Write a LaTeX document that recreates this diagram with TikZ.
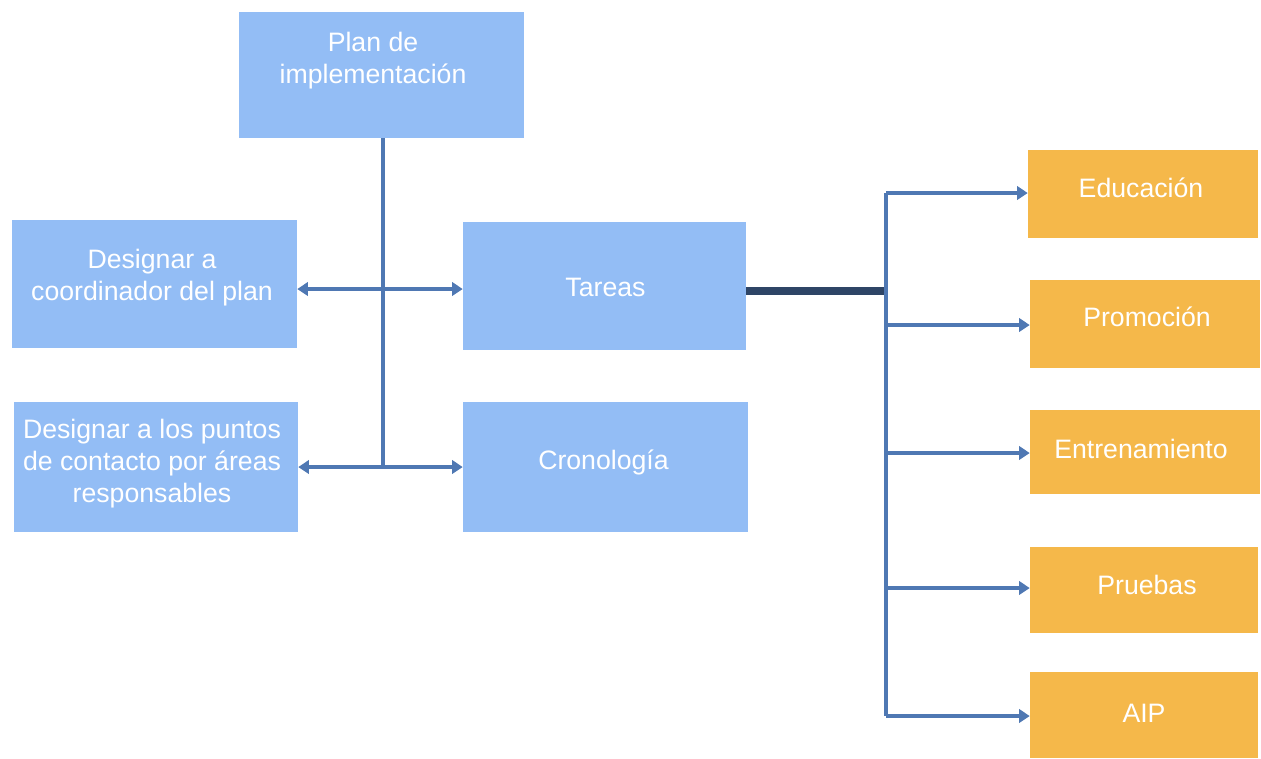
\documentclass[tikz,border=0pt]{standalone}
\usepackage{fontspec}
\setmainfont{Liberation Sans}
\usetikzlibrary{arrows.meta}
\definecolor{boxblue}{HTML}{93BDF5}
\definecolor{boxorange}{HTML}{F5B84A}
\definecolor{linkblue}{HTML}{4F78B3}
\definecolor{darkline}{HTML}{2E4566}
\begin{document}
\begin{tikzpicture}[x=0.75pt,y=-0.75pt,
  lbl/.style={text=white,font=\fontsize{20}{24}\selectfont,align=center},
  box/.style={draw=none,inner sep=0pt,minimum width=#1},
  bluebox/.style={box=285*0.75pt,fill=boxblue,minimum height=128*0.75pt},
  orangebox/.style={box=230*0.75pt,fill=boxorange,minimum height=87*0.75pt},
  txt/.style args={#1/#2/#3}{label={[lbl,xshift=#1*0.75pt,yshift=#2*0.75pt]center:#3}},
  link/.style={draw=linkblue,line width=3.6pt},
  tip/.tip={Triangle[length=8pt,width=10pt]},
  arr/.style={link,-tip},
  darr/.style={link,tip-tip}]
\path[use as bounding box] (0,0) rectangle (1261,758);
% blue boxes
\node[bluebox,minimum height=126*0.75pt,txt={-8.5/14/{Plan de\\implementación}}] (plan) at (381.5,75) {};
\node[bluebox,txt={-2.5/6/{Designar a\\coordinador del plan}}] (coord) at (154.5,284) {};
\node[bluebox,minimum width=284*0.75pt,minimum height=130*0.75pt,txt={-4/3/{Designar a los puntos\\de contacto por áreas\\responsables}}] (puntos) at (156,467) {};
\node[bluebox,minimum width=283*0.75pt,txt={1/-1/Tareas}] (tareas) at (604.5,286) {};
\node[bluebox,minimum height=130*0.75pt,txt={-2/5/Cronología}] (crono) at (605.5,467) {};
% orange boxes
\node[orangebox,minimum height=88*0.75pt,txt={-2/6/Educación}] (edu) at (1143,194) {};
\node[orangebox,minimum height=88*0.75pt,txt={2/7/Promoción}] (promo) at (1145,324) {};
\node[orangebox,minimum height=84*0.75pt,txt={-4/3/Entrenamiento}] (entre) at (1145,452) {};
\node[orangebox,minimum width=228*0.75pt,minimum height=86*0.75pt,txt={3/5/Pruebas}] (prue) at (1144,590) {};
\node[orangebox,minimum width=228*0.75pt,minimum height=86*0.75pt,txt={0/2/AIP}] (aip) at (1144,715) {};
% junctions
\coordinate (j1) at (383,289);
\coordinate (j2) at (383,467);
\coordinate (hub) at (886,291);
\coordinate (vtop) at (886,193);
\coordinate (vbot) at (886,716);
% left connectors
\draw[link] (plan.south -| j1) -- (j2);
\draw[darr] (coord.east |- j1) -- (tareas.west |- j1);
\draw[darr] (puntos.east |- j2) -- (crono.west |- j2);
% right connectors
\draw[draw=darkline,line width=5.5pt] (tareas.east |- hub) -- (hub);
\draw[link] (vtop) -- (vbot);
\draw[arr] (vtop) -- (edu.west |- vtop);
\draw[arr] (886,325) -- (promo.west |- 0,325);
\draw[arr] (886,453) -- (entre.west |- 0,453);
\draw[arr] (886,588) -- (prue.west |- 0,588);
\draw[arr] (vbot) -- (aip.west |- vbot);
\end{tikzpicture}
\end{document}
